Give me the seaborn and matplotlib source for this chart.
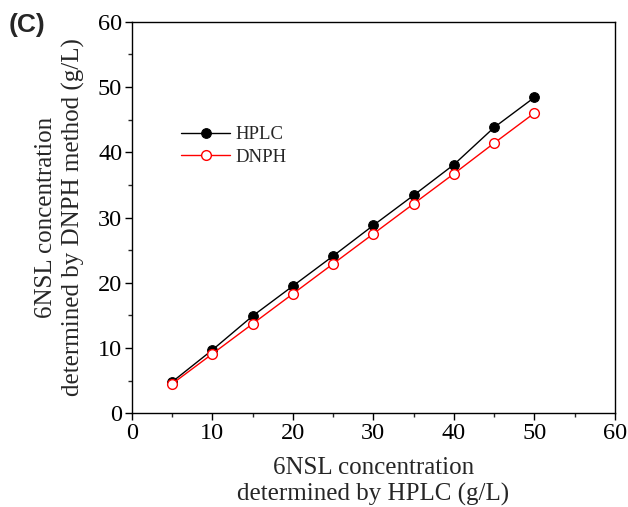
import matplotlib
matplotlib.use("Agg")
import matplotlib.pyplot as plt
import seaborn as sns
import pandas as pd
from matplotlib.ticker import MultipleLocator

x_vals = [5, 10, 15, 20, 25, 30, 35, 40, 45, 50]
hplc = [4.8, 9.7, 14.9, 19.5, 24.1, 28.8, 33.4, 38.1, 43.8, 48.4]
dnph = [4.5, 9.1, 13.7, 18.3, 22.9, 27.5, 32.1, 36.7, 41.4, 46.0]
series_names = ["HPLC", "DNPH"]
x_ticks = [0, 10, 20, 30, 40, 50, 60]
y_ticks = [0, 10, 20, 30, 40, 50, 60]

sns.set_style("ticks")
plt.rcParams["font.family"] = "serif"
plt.rcParams["font.serif"] = ["Liberation Serif", "DejaVu Serif"]

fig = plt.figure(figsize=(6.28, 5.07), dpi=100)
ax = fig.add_axes([0.210, 0.185, 0.769, 0.772])

df_h = pd.DataFrame({"x": x_vals, "y": hplc})
df_d = pd.DataFrame({"x": x_vals, "y": dnph})
sns.lineplot(data=df_h, x="x", y="y", ax=ax, color="black", lw=1.0,
             marker="o", markersize=7, markerfacecolor="black",
             markeredgecolor="black", label=series_names[0])
sns.lineplot(data=df_d, x="x", y="y", ax=ax, color="red", lw=1.0,
             marker="o", markersize=7, markerfacecolor="white",
             markeredgecolor="red", markeredgewidth=1.0, label=series_names[1])

ax.set_xlim(0, 60)
ax.set_ylim(0, 60)
ax.set_xticks(x_ticks)
ax.set_yticks(y_ticks)
ax.xaxis.set_minor_locator(MultipleLocator(5))
ax.yaxis.set_minor_locator(MultipleLocator(5))
ax.tick_params(which="major", direction="out", length=5, width=1.0,
               labelsize=17.5, colors="black", pad=2)
ax.tick_params(which="minor", direction="out", length=3, width=1.0)
for s in ax.spines.values():
    s.set_visible(True)
    s.set_linewidth(1.0)
    s.set_color("black")

ax.set_xlabel("6NSL concentration\ndetermined by HPLC (g/L)", fontsize=18,
              linespacing=1.22, labelpad=9.5)
ax.set_ylabel("6NSL concentration\ndetermined by DNPH method (g/L)", fontsize=18,
              linespacing=1.3, labelpad=9)

leg = ax.legend(loc="center left", bbox_to_anchor=(0.1025, 0.683), frameon=False,
                fontsize=13.5, handlelength=2.6, handletextpad=0.3,
                labelspacing=0.3, borderaxespad=0, borderpad=0)

fig.text(0.013, 0.951, "(C)", fontsize=19, fontweight="bold",
         family=["Liberation Sans", "DejaVu Sans"], va="center")

fig.savefig("out.png", dpi=100)
